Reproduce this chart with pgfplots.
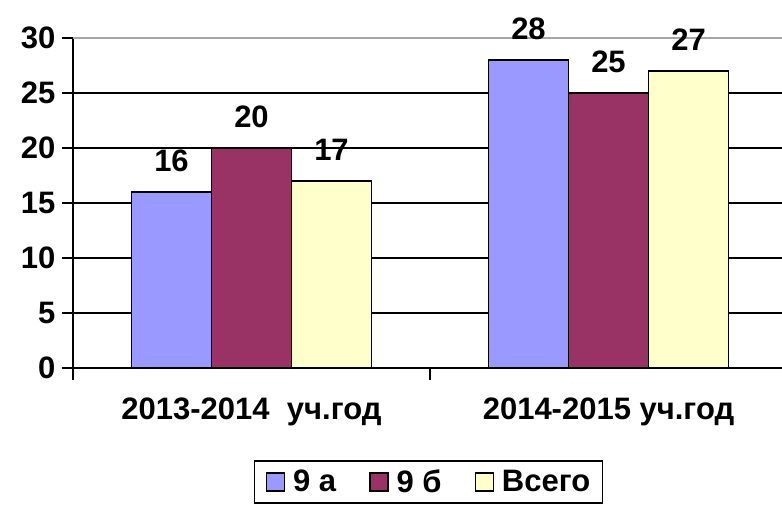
\documentclass[border=0pt]{standalone}
\usepackage{pgfplots}
\pgfplotsset{compat=1.18}
\usepackage{fontspec}
\setmainfont{Liberation Sans}
\definecolor{ca}{HTML}{9999FF}
\definecolor{cb}{HTML}{993366}
\definecolor{cc}{HTML}{FFFFCC}
\newcommand{\F}{\fontsize{31}{35}\selectfont\bfseries}
\begin{document}
\begin{tikzpicture}
\begin{axis}[
  scale only axis,
  width=709pt, height=330pt,
  xmin=0, xmax=1.986,
  ymin=0, ymax=30,
  axis lines=left,
  axis line style={-, line width=1.6pt, black},
  ybar=0pt, bar width=80pt,
  xtick={0.5,1.5},
  xticklabels={{2013-2014\ \ уч.год},{2014-2015 уч.год}},
  major x tick style={draw=none},
  minor xtick={0,1},
  minor tick length=12pt,
  minor x tick style={line width=1.6pt, black},
  ytick={0,5,...,25},
  extra y ticks={30},
  extra y tick style={grid style={gray!70, line width=1.6pt}},
  ymajorgrids,
  grid style={black, line width=1.4pt},
  tick align=outside,
  major tick length=11pt,
  y tick style={line width=1.6pt, black},
  /pgf/number format/assume math mode=true,
  tick label style={font=\F},
  xticklabel style={font=\F, yshift=-15pt},
  yticklabel style={xshift=-3pt},
  nodes near coords,
  nodes near coords style={font=\F, black, yshift=16pt},
  legend columns=3,
  legend style={at={(0.5014,-0.2788)}, anchor=north, draw=black, line width=1.6pt,
    font=\F, nodes={inner sep=1pt}, column sep=7pt, inner xsep=11pt, inner ysep=8pt,
    /tikz/every even column/.append style={column sep=32pt}},
  legend image code/.code={\draw[#1, line width=1.4pt] (0pt,-9pt) rectangle (18pt,9pt);},
]
\addplot[fill=ca, draw=black, line width=1.6pt] coordinates {(0.5,16) (1.5,28)};
\addplot[fill=cb, draw=black, line width=1.6pt] coordinates {(0.5,20) (1.5,25)};
\addplot[fill=cc, draw=black, line width=1.6pt] coordinates {(0.5,17) (1.5,27)};
\legend{9 а, 9 б, Всего}
\end{axis}
\pgfresetboundingbox
\path[use as bounding box] (-73pt,-140pt) rectangle (709pt,368pt);
\end{tikzpicture}
\end{document}
